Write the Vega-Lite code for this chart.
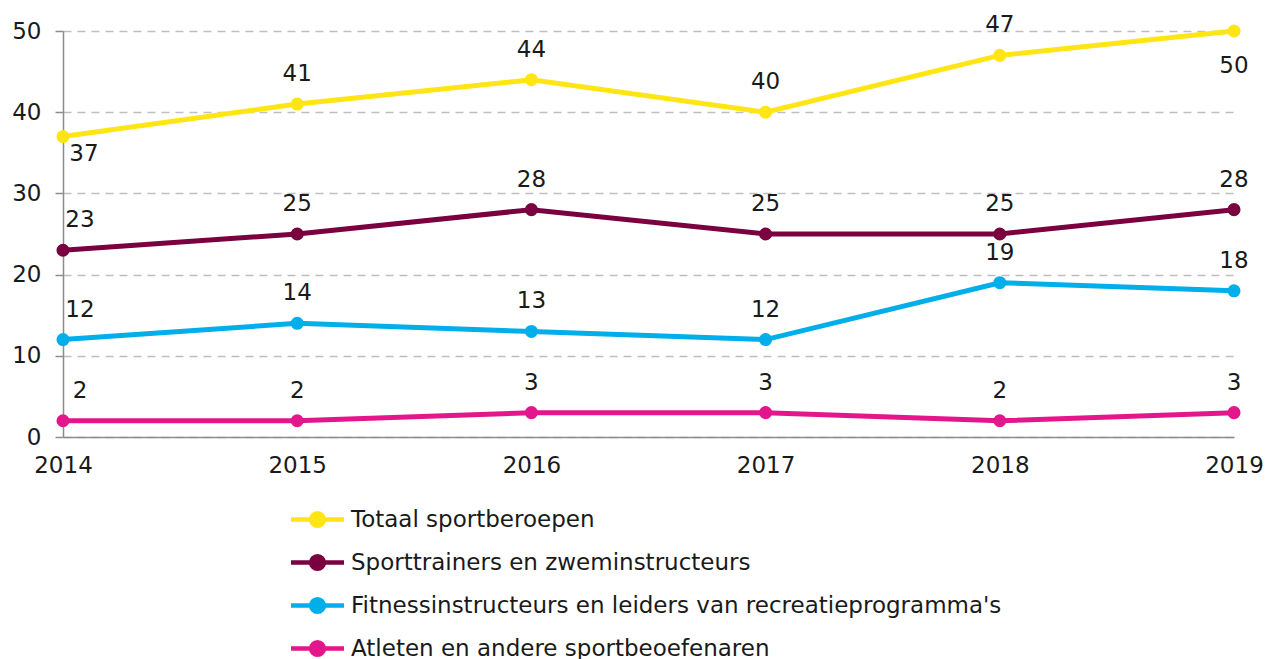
{
  "$schema": "https://vega.github.io/schema/vega-lite/v6.json",
  "width": 1171,
  "height": 406,
  "autosize": "none",
  "padding": {"left": 63, "top": 31, "right": 33, "bottom": 222},
  "background": "white",
  "config": {
    "font": "DejaVu Sans",
    "view": {"stroke": null},
    "axis": {"labelFontSize": 23, "labelColor": "#1a1a1a", "domainColor": "#8c8c8c", "tickColor": "#8c8c8c", "title": null}
  },
  "data": {
    "values": [
      {"year": 2014, "series": "Totaal sportberoepen", "value": 37},
      {"year": 2015, "series": "Totaal sportberoepen", "value": 41},
      {"year": 2016, "series": "Totaal sportberoepen", "value": 44},
      {"year": 2017, "series": "Totaal sportberoepen", "value": 40},
      {"year": 2018, "series": "Totaal sportberoepen", "value": 47},
      {"year": 2019, "series": "Totaal sportberoepen", "value": 50},
      {"year": 2014, "series": "Sporttrainers en zweminstructeurs", "value": 23},
      {"year": 2015, "series": "Sporttrainers en zweminstructeurs", "value": 25},
      {"year": 2016, "series": "Sporttrainers en zweminstructeurs", "value": 28},
      {"year": 2017, "series": "Sporttrainers en zweminstructeurs", "value": 25},
      {"year": 2018, "series": "Sporttrainers en zweminstructeurs", "value": 25},
      {"year": 2019, "series": "Sporttrainers en zweminstructeurs", "value": 28},
      {"year": 2014, "series": "Fitnessinstructeurs en leiders van recreatieprogramma's", "value": 12},
      {"year": 2015, "series": "Fitnessinstructeurs en leiders van recreatieprogramma's", "value": 14},
      {"year": 2016, "series": "Fitnessinstructeurs en leiders van recreatieprogramma's", "value": 13},
      {"year": 2017, "series": "Fitnessinstructeurs en leiders van recreatieprogramma's", "value": 12},
      {"year": 2018, "series": "Fitnessinstructeurs en leiders van recreatieprogramma's", "value": 19},
      {"year": 2019, "series": "Fitnessinstructeurs en leiders van recreatieprogramma's", "value": 18},
      {"year": 2014, "series": "Atleten en andere sportbeoefenaren", "value": 2},
      {"year": 2015, "series": "Atleten en andere sportbeoefenaren", "value": 2},
      {"year": 2016, "series": "Atleten en andere sportbeoefenaren", "value": 3},
      {"year": 2017, "series": "Atleten en andere sportbeoefenaren", "value": 3},
      {"year": 2018, "series": "Atleten en andere sportbeoefenaren", "value": 2},
      {"year": 2019, "series": "Atleten en andere sportbeoefenaren", "value": 3}
    ]
  },
  "encoding": {
    "x": {
      "field": "year", "type": "quantitative",
      "scale": {"domain": [2014, 2019], "nice": false, "zero": false},
      "axis": {"format": "d", "values": [2014, 2015, 2016, 2017, 2018, 2019], "grid": false, "ticks": false, "labelPadding": 17, "labelFlush": false, "labelOverlap": false, "domainWidth": 1.5}
    },
    "y": {
      "field": "value", "type": "quantitative",
      "scale": {"domain": [0, 50], "nice": false},
      "axis": {"values": [0, 10, 20, 30, 40, 50], "grid": true, "gridColor": "#bfbfbf", "gridDash": [8, 6], "gridWidth": 1.5, "tickSize": 8, "tickWidth": 1.5, "labelPadding": 14, "labelFlush": false, "domainWidth": 1.5}
    }
  },
  "layer": [
    {
      "mark": {"type": "line", "strokeWidth": 5, "point": {"size": 170, "filled": true, "opacity": 1}},
      "encoding": {
        "color": {
          "field": "series", "type": "nominal",
          "scale": {
            "domain": ["Totaal sportberoepen", "Sporttrainers en zweminstructeurs", "Fitnessinstructeurs en leiders van recreatieprogramma's", "Atleten en andere sportbeoefenaren"],
            "range": ["#ffe513", "#7a0040", "#00aeea", "#e3168c"]
          },
          "legend": {
            "title": null,
            "orient": "none",
            "legendX": 239,
            "legendY": 473,
            "direction": "vertical",
            "labelFontSize": 23,
            "labelColor": "#1a1a1a",
            "labelLimit": 900,
            "labelOffset": 18,
            "symbolType": "M-2,0H2M-0.48,0A0.48,0.48 0 1,1 0.48,0A0.48,0.48 0 1,1 -0.48,0Z",
            "symbolSize": 702,
            "symbolStrokeWidth": 4.5,
            "rowPadding": 12,
            "encode": {"symbols": {"update": {"fill": {"scale": "color", "field": "value"}}}}
          }
        }
      }
    },
    {
      "transform": [{"filter": "datum.year > 2014 && !(datum.year == 2019 && datum.series == 'Totaal sportberoepen')"}],
      "mark": {"type": "text", "fontSize": 23, "color": "#1a1a1a", "dy": -23, "baseline": "alphabetic"},
      "encoding": {"text": {"field": "value", "type": "quantitative"}}
    },
    {
      "transform": [{"filter": "datum.year == 2014 && datum.series != 'Totaal sportberoepen'"}],
      "mark": {"type": "text", "fontSize": 23, "color": "#1a1a1a", "dy": -23, "dx": 17, "baseline": "alphabetic"},
      "encoding": {"text": {"field": "value", "type": "quantitative"}}
    },
    {
      "transform": [{"filter": "datum.year == 2014 && datum.series == 'Totaal sportberoepen'"}],
      "mark": {"type": "text", "fontSize": 23, "color": "#1a1a1a", "dy": 24, "dx": 21, "baseline": "alphabetic"},
      "encoding": {"text": {"field": "value", "type": "quantitative"}}
    },
    {
      "transform": [{"filter": "datum.year == 2019 && datum.series == 'Totaal sportberoepen'"}],
      "mark": {"type": "text", "fontSize": 23, "color": "#1a1a1a", "dy": 42, "baseline": "alphabetic"},
      "encoding": {"text": {"field": "value", "type": "quantitative"}}
    }
  ]
}
